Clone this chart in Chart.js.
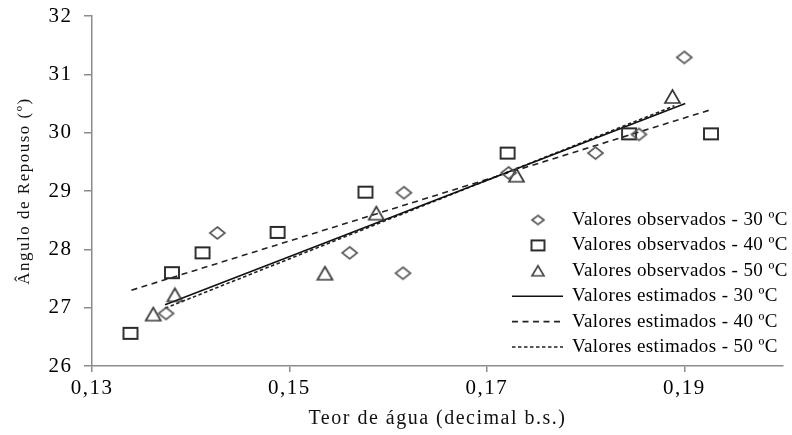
<!DOCTYPE html>
<html>
<head>
<meta charset="utf-8">
<script src="https://cdn.jsdelivr.net/npm/chart.js@4.4.0/dist/chart.umd.min.js"></script>
<style>
  html, body { margin: 0; padding: 0; background: #fff; }
  #wrap { width: 792px; height: 435px; }
</style>
</head>
<body>
<div id="wrap"><canvas id="chart"></canvas></div>
<script>
const obs30X = [0.1375, 0.1427, 0.1561, 0.1615, 0.1616, 0.1722, 0.1810, 0.1854, 0.1900];
const obs30Y = [26.90, 28.28, 27.94, 27.59, 28.97, 29.31, 29.65, 29.97, 31.29];
const obs40X = [0.1339, 0.1381, 0.1412, 0.1488, 0.1577, 0.1721, 0.1844, 0.1927];
const obs40Y = [26.56, 27.60, 27.94, 28.29, 28.98, 29.65, 29.98, 29.98];
const obs50X = [0.1362, 0.1384, 0.1536, 0.1588, 0.1730, 0.1888];
const obs50Y = [26.89, 27.22, 27.59, 28.62, 29.27, 30.62];

// fitted lines (end points)
const est30X = [0.1374, 0.1901];
const est30Y = [27.05, 30.50];
const est40X = [0.1340, 0.1928];
const est40Y = [27.30, 30.40];
const est50X = [0.1374, 0.1890];
const est50Y = [26.99, 30.46];

const seriesLabels = [
  'Valores observados - 30 ºC',
  'Valores observados - 40 ºC',
  'Valores observados - 50 ºC',
  'Valores estimados - 30 ºC',
  'Valores estimados - 40 ºC',
  'Valores estimados - 50 ºC'
];
const xTickValues = [0.13, 0.15, 0.17, 0.19];
const xTitle = 'Teor de água (decimal b.s.)';
const yTitle = 'Ângulo de Repouso (º)';

const serif = "'Liberation Serif', 'Times New Roman', serif";
Chart.defaults.font.family = serif;
Chart.defaults.color = '#000';

const toPoints = (xs, ys) => xs.map((x, i) => ({ x: x, y: ys[i] }));

const makeMarker = (shape, w, h, color, lw) => {
  const pad = 2;
  const c = document.createElement('canvas');
  c.width = Math.ceil(w + pad * 2);
  c.height = Math.ceil(h + pad * 2);
  const ctx = c.getContext('2d');
  const cx = c.width / 2, cy = c.height / 2;
  ctx.strokeStyle = color;
  ctx.lineWidth = lw;
  ctx.beginPath();
  if (shape === 'diamond') {
    ctx.moveTo(cx, cy - h / 2);
    ctx.lineTo(cx + w / 2, cy);
    ctx.lineTo(cx, cy + h / 2);
    ctx.lineTo(cx - w / 2, cy);
    ctx.closePath();
  } else if (shape === 'square') {
    ctx.rect(cx - w / 2, cy - h / 2, w, h);
  } else {
    ctx.moveTo(cx, cy - h / 2);
    ctx.lineTo(cx + w / 2, cy + h / 2);
    ctx.lineTo(cx - w / 2, cy + h / 2);
    ctx.closePath();
  }
  ctx.stroke();
  return c;
};

const markers = [
  makeMarker('diamond', 15, 12, '#5a5a5a', 1.7),
  makeMarker('square', 14, 11, '#2a2a2a', 1.9),
  makeMarker('triangle', 15, 13, '#3a3a3a', 1.7)
];
const legendMarkers = [
  makeMarker('diamond', 12, 9, '#5a5a5a', 1.7),
  makeMarker('square', 13, 10, '#2a2a2a', 1.9),
  makeMarker('triangle', 12, 10, '#4a4a4a', 1.7)
];

const insideLegend = {
  id: 'insideLegend',
  afterDraw(chart) {
    const ctx = chart.ctx;
    ctx.save();
    ctx.letterSpacing = '0.4px';
    ctx.font = '19px ' + serif;
    ctx.fillStyle = '#000';
    ctx.textBaseline = 'middle';
    ctx.textAlign = 'left';
    chart.data.datasets.forEach((ds, i) => {
      const y = 220 + i * 25.4;
      if (ds.showLine) {
        ctx.save();
        ctx.strokeStyle = ds.borderColor;
        ctx.lineWidth = ds.borderWidth;
        ctx.setLineDash(ds.borderDash || []);
        ctx.beginPath();
        ctx.moveTo(512, y);
        ctx.lineTo(563, y);
        ctx.stroke();
        ctx.restore();
      } else {
        const m = legendMarkers[i];
        ctx.drawImage(m, 538 - m.width / 2, y - m.height / 2);
      }
      ctx.fillText(ds.label, 572, y);
    });
    ctx.restore();
  }
};

const textSpacing = {
  id: 'textSpacing',
  beforeDraw(chart) { chart.ctx.letterSpacing = '1.5px'; },
  afterDatasetsDraw(chart) { chart.ctx.letterSpacing = '0px'; }
};

const axisGray = '#8c8c8c';

new Chart(document.getElementById('chart'), {
  type: 'scatter',
  data: {
    datasets: [
      { label: seriesLabels[0], data: toPoints(obs30X, obs30Y), pointStyle: markers[0], pointRadius: 8 },
      { label: seriesLabels[1], data: toPoints(obs40X, obs40Y), pointStyle: markers[1], pointRadius: 8 },
      { label: seriesLabels[2], data: toPoints(obs50X, obs50Y), pointStyle: markers[2], pointRadius: 8 },
      { label: seriesLabels[3], data: toPoints(est30X, est30Y), showLine: true, pointRadius: 0,
        borderColor: '#111', borderWidth: 1.6, borderDash: [] },
      { label: seriesLabels[4], data: toPoints(est40X, est40Y), showLine: true, pointRadius: 0,
        borderColor: '#222', borderWidth: 1.6, borderDash: [6, 4.5] },
      { label: seriesLabels[5], data: toPoints(est50X, est50Y), showLine: true, pointRadius: 0,
        borderColor: '#222', borderWidth: 1.6, borderDash: [3.5, 2.5] }
    ]
  },
  options: {
    responsive: true,
    maintainAspectRatio: false,
    animation: false,
    layout: { padding: { top: 16, right: 5, left: 0, bottom: 0 } },
    plugins: {
      legend: { display: false },
      tooltip: { enabled: false }
    },
    scales: {
      x: {
        type: 'linear',
        min: 0.13,
        max: 0.20,
        afterBuildTicks: (scale) => { scale.ticks = xTickValues.map(v => ({ value: v })); },
        afterFit: (scale) => { scale.height = 69; },
        border: { display: true, color: axisGray, width: 1.5 },
        grid: { drawOnChartArea: false, drawTicks: true, tickLength: 6, color: axisGray, lineWidth: 1.5 },
        ticks: {
          padding: 4,
          color: '#000',
          font: { size: 21 },
          maxRotation: 0,
          callback: (v) => v.toFixed(2).replace('.', ',')
        },
        title: {
          display: true,
          text: xTitle,
          color: '#111',
          font: { size: 20 },
          padding: { top: 0, bottom: 4 }
        }
      },
      y: {
        type: 'linear',
        min: 26,
        max: 32,
        afterFit: (scale) => {
          scale.width = 92;
          scale.paddingTop = 0;
          scale.paddingBottom = 0;
        },
        border: { display: true, color: axisGray, width: 1.5 },
        grid: { drawOnChartArea: false, drawTicks: true, tickLength: 8, color: axisGray, lineWidth: 1.5 },
        ticks: {
          stepSize: 1,
          padding: 11.5,
          color: '#000',
          font: { size: 21 },
          callback: (v) => String(v)
        },
        title: {
          display: true,
          text: yTitle,
          color: '#111',
          font: { size: 17 },
          padding: { top: 14, bottom: 0 }
        }
      }
    }
  },
  plugins: [textSpacing, insideLegend]
});
</script>
</body>
</html>
